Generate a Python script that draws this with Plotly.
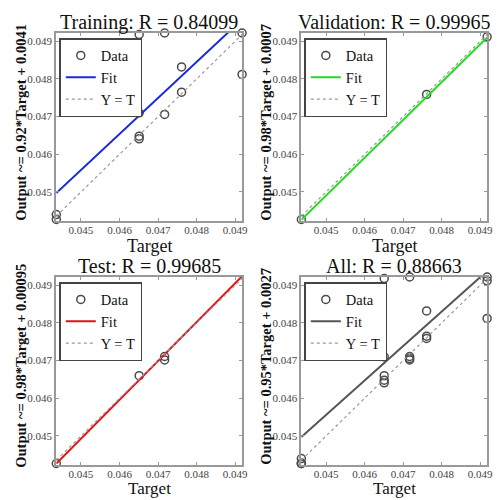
import plotly.graph_objects as go

# ---------------- data ----------------
train_target = [0.04436, 0.04436, 0.04651, 0.04651, 0.04651, 0.04651, 0.04717, 0.04717,
                0.04761, 0.04761, 0.04761, 0.04918, 0.04918]
train_output = [0.04440, 0.04427, 0.04918, 0.04710, 0.04648, 0.04641, 0.04922, 0.04706,
                0.04925, 0.04832, 0.04765, 0.04922, 0.04812]
val_target = [0.04436, 0.04761, 0.04918, 0.04918]
val_output = [0.04427, 0.04759, 0.04912, 0.04927]
test_target = [0.04436, 0.04651, 0.04717, 0.04717]
test_output = [0.04427, 0.04660, 0.04711, 0.04702]
all_target = train_target + val_target + test_target
all_output = train_output + val_output + test_output

fit_x = [0.04436, 0.04918]
train_fit = [0.04497, 0.04958]
val_fit = [0.04426, 0.04910]
test_fit = [0.04427, 0.04924]
all_fit = [0.04497, 0.04938]

titles = ["Training: R = 0.84099", "Validation: R = 0.99965", "Test: R = 0.99685", "All: R = 0.88663"]
ylabels = ["Output ~= 0.92*Target + 0.0041", "Output ~= 0.98*Target + 0.0007",
           "Output ~= 0.98*Target + 0.00095", "Output ~= 0.95*Target + 0.0027"]
fit_colors = ["#1c2bd6", "#22dd22", "#dd1515", "#555555"]
tick_vals = [0.045, 0.046, 0.047, 0.048, 0.049]
tick_text = ["0.045", "0.046", "0.047", "0.048", "0.049"]
x_range = [0.04436, 0.04918]
y_range = [0.04423, 0.04922]

W, H = 503, 500
# panel pixel boxes (left, right, top, bottom)
boxes = [(57, 245, 33, 221), (305, 493, 33, 221), (57, 245, 277, 465), (305, 493, 277, 465)]
xlabel_gap = [25, 25, 23, 23]
xlabel_size = [18, 18, 17, 17]

FONT = "Liberation Serif, Times New Roman, serif"
fig = go.Figure()

datasets = [(train_target, train_output, train_fit), (val_target, val_output, val_fit),
            (test_target, test_output, test_fit), (all_target, all_output, all_fit)]

annotations = []
for i, ((tx, ty, fy), box) in enumerate(zip(datasets, boxes)):
    n = "" if i == 0 else str(i + 1)
    xa, ya = "x" + n, "y" + n
    lg = "legend" + n
    fig.add_trace(go.Scatter(x=tx, y=ty, mode="markers", name="Data", xaxis=xa, yaxis=ya,
                             legend=lg, cliponaxis=False,
                             marker=dict(symbol="circle-open", size=8, color="#4a4a4a",
                                         line=dict(width=1.5, color="#4a4a4a"))))
    fig.add_trace(go.Scatter(x=fit_x, y=fy, mode="lines", name="Fit", xaxis=xa, yaxis=ya,
                             legend=lg, line=dict(color=fit_colors[i], width=2)))
    fig.add_trace(go.Scatter(x=x_range, y=[x_range[0], x_range[1]], mode="lines", name="Y = T",
                             xaxis=xa, yaxis=ya, legend=lg,
                             line=dict(color="#999999", width=1.2, dash="dot")))
    l, r, t, b = box
    axcommon = dict(showgrid=False, zeroline=False, showline=True, mirror="ticks",
                    linecolor="#999999", linewidth=2, ticks="inside", ticklen=3,
                    tickcolor="#999999", tickvals=tick_vals, ticktext=tick_text,
                    tickfont=dict(family=FONT, size=11, color="#444444"))
    fig.update_layout(**{
        "xaxis" + n: dict(domain=[l / W, r / W], range=x_range, anchor=ya,
                          ticklabelstandoff=-2, **axcommon),
        "yaxis" + n: dict(domain=[1 - b / H, 1 - t / H], range=y_range, anchor=xa, **axcommon),
        lg: dict(x=(l + 3) / W, y=1 - (t + 5) / H, xanchor="left", yanchor="top",
                 bgcolor="white", bordercolor="#444444", borderwidth=1.5,
                 font=dict(family=FONT, size=14.5, color="#111111")),
    })
    cx = (l + r) / 2
    annotations.append(dict(text=titles[i], x=cx / W, y=1 - (t - 11) / H, xref="paper", yref="paper",
                            xanchor="center", yanchor="middle", showarrow=False,
                            font=dict(family=FONT, size=20, color="#111111")))
    annotations.append(dict(text="Target", x=cx / W, y=1 - (b + xlabel_gap[i]) / H, xref="paper",
                            yref="paper", xanchor="center", yanchor="middle", showarrow=False,
                            font=dict(family=FONT, size=xlabel_size[i], color="#111111")))
    annotations.append(dict(text="<b>" + ylabels[i] + "</b>", x=(l - 36) / W, y=1 - ((t + b) / 2 - 5) / H,
                            xref="paper", yref="paper", xanchor="center", yanchor="middle",
                            textangle=-90, showarrow=False,
                            font=dict(family=FONT, size=14.5, color="#111111")))

fig.update_layout(width=W, height=H, margin=dict(l=0, r=0, t=0, b=0),
                  paper_bgcolor="white", plot_bgcolor="white", annotations=annotations)

fig.write_html("out.html", config={"displayModeBar": False},
               post_script="document.body.style.margin='0px';document.body.style.overflow='hidden';")
